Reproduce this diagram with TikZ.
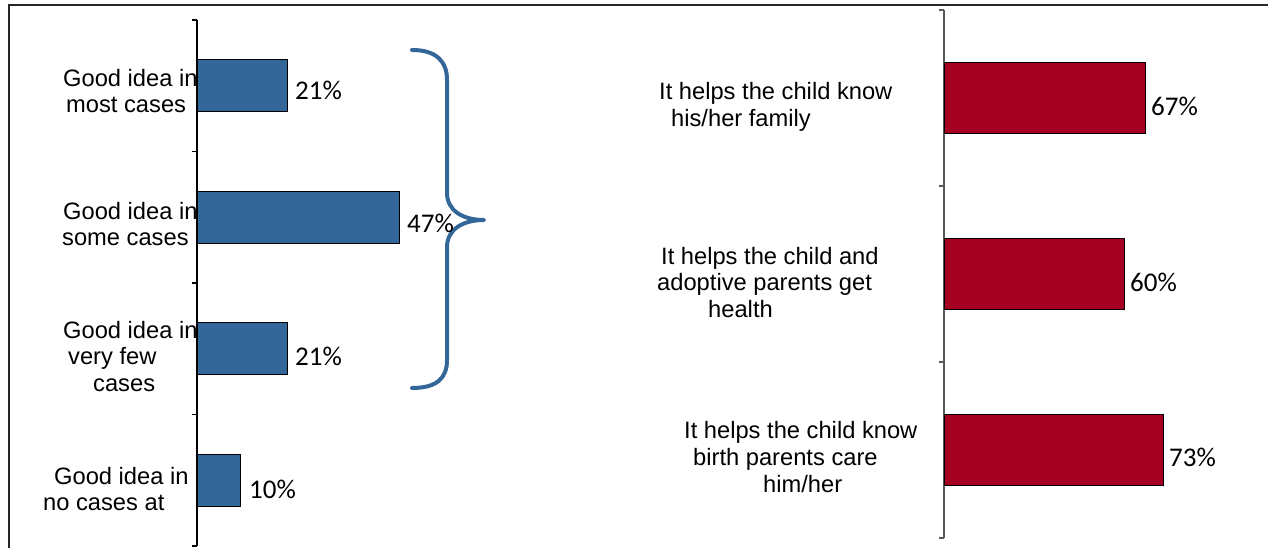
\documentclass[tikz,border=0pt]{standalone}
\usepackage{fontspec}
\setmainfont{Liberation Sans}
\newfontfamily\pctfont{Carlito}
\definecolor{barblue}{HTML}{336699}
\definecolor{barred}{HTML}{A50021}
\definecolor{axisgray}{HTML}{595959}
\tikzset{
  catlabel/.style={anchor=base west, inner sep=0pt, font=\fontsize{23.7}{27}\selectfont},
  pctlabel/.style={anchor=base west, inner sep=0pt, font=\pctfont\fontsize{27}{31}\selectfont},
  bluebar/.style={fill=barblue, draw=black, line width=1pt},
  redbar/.style={fill=barred, draw=black, line width=1pt},
  axisline/.style={line width=1.3pt},
  bracestyle/.style={draw=barblue, line width=4pt, line cap=round, line join=round},
}
\begin{document}
\begin{tikzpicture}[x=1pt,y=-1pt]
\useasboundingbox (0,0) rectangle (1268,548);
\fill[white] (0,0) rectangle (1268,548);
% frame
\draw[line width=2pt, black!85] (9,548) -- (9,5) -- (1268,5);

% ---------- left chart ----------
\draw[axisline] (197,20) -- (197,546);
\foreach \y in {20,151.5,283,414.5,546} \draw[axisline] (192,\y) -- (197,\y);
\draw[bluebar] (197,59.75) rectangle (287.3,111.75);
\draw[bluebar] (197,191.25) rectangle (399.1,243.25);
\draw[bluebar] (197,322.75) rectangle (287.3,374.75);
\draw[bluebar] (197,454.25) rectangle (240,506.25);

% brace
\draw[bracestyle] (412,50) .. controls (437,50) and (447,62) .. (447,80)
  -- (447,193) .. controls (447,210) and (462,220) .. (484,220)
  .. controls (462,220) and (447,230) .. (447,247)
  -- (447,360) .. controls (447,378) and (437,388) .. (412,388);

% left category labels
\node[catlabel] (l1a) at (63,87) {Good idea in};
\node[catlabel] (l1b) at (66,113) {most cases};
\node[catlabel] (l2a) at (63,219) {Good idea in};
\node[catlabel] (l2b) at (62,245) {some cases};
\node[catlabel] (l3a) at (63,338) {Good idea in};
\node[catlabel] (l3b) at (68,364.5) {very few};
\node[catlabel] (l3c) at (93,391) {cases};
\node[catlabel] (l4a) at (54,484) {Good idea in};
\node[catlabel] (l4b) at (43,510) {no cases at};

% left values
\node[pctlabel] (p1) at (295,100) {21\%};
\node[pctlabel] (p2) at (407,232) {47\%};
\node[pctlabel] (p3) at (295,365) {21\%};
\node[pctlabel] (p4) at (249,498) {10\%};

% ---------- right chart ----------
\draw[axisline, axisgray] (944,10) -- (944,538);
\foreach \y in {10,186,362,538} \draw[axisline, axisgray] (939,\y) -- (944,\y);
\draw[redbar] (944,62.5) rectangle (1145,133.5);
\draw[redbar] (944,238.5) rectangle (1124,309.5);
\draw[redbar] (944,414.5) rectangle (1163,485.5);

% right category labels
\node[catlabel] (r1a) at (659,100) {It helps the child know};
\node[catlabel] (r1b) at (671,127) {his/her family};
\node[catlabel] (r2a) at (661,264) {It helps the child and};
\node[catlabel] (r2b) at (657,290.5) {adoptive parents get};
\node[catlabel] (r2c) at (708,317) {health};
\node[catlabel] (r3a) at (684,438) {It helps the child know};
\node[catlabel] (r3b) at (693,465) {birth parents care};
\node[catlabel] (r3c) at (763,492) {him/her};

% right values
\node[pctlabel] (q1) at (1151,116) {67\%};
\node[pctlabel] (q2) at (1130,291) {60\%};
\node[pctlabel] (q3) at (1169,466) {73\%};
\end{tikzpicture}
\end{document}
